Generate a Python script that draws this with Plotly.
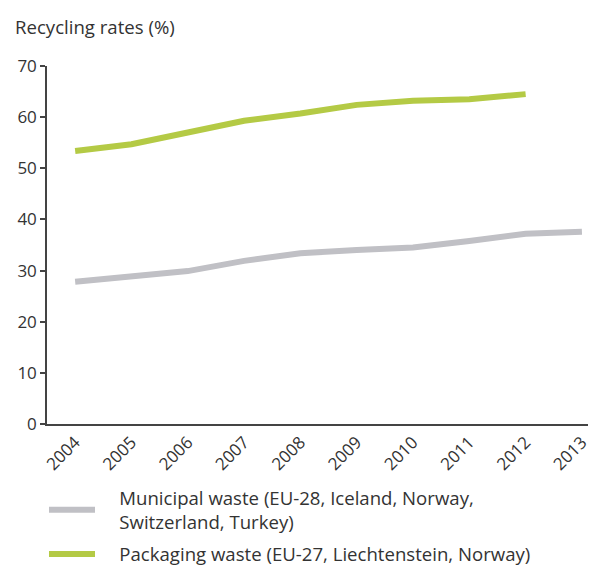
import plotly.graph_objects as go

years = [2004, 2005, 2006, 2007, 2008, 2009, 2010, 2011, 2012, 2013]
municipal = [27.8, 28.9, 29.9, 31.9, 33.4, 34.0, 34.5, 35.8, 37.2, 37.6]
packaging_years = [2004, 2005, 2006, 2007, 2008, 2009, 2010, 2011, 2012]
packaging = [53.4, 54.7, 57.0, 59.3, 60.7, 62.4, 63.2, 63.5, 64.5]
y_ticks = [0, 10, 20, 30, 40, 50, 60, 70]

FONT = "Open Sans"
TXT = "#333333"
W, H = 588, 559  # page body has an 8px offset
PAD = "\u00a0" * 4

fig = go.Figure()
fig.add_trace(go.Scatter(
    x=years, y=municipal, mode="lines", legendgroup="municipal",
    name=PAD + "Municipal waste (EU-28, Iceland, Norway,<br>" + PAD + "Switzerland, Turkey)",
    line=dict(color="#c0c0c5", width=6),
))
fig.add_trace(go.Scatter(
    x=packaging_years, y=packaging, mode="lines", legendgroup="packaging",
    name=PAD + "Packaging waste (EU-27, Liechtenstein, Norway)",
    line=dict(color="#b4ca45", width=6),
))

fig.update_layout(
    width=W, height=H,
    margin=dict(l=39, r=0, t=58, b=143, autoexpand=False),
    plot_bgcolor="white", paper_bgcolor="white",
    font=dict(family=FONT, color=TXT, size=18.6),
    title=dict(text="Recycling rates (%)", xref="container", yref="container",
               x=7/W, y=1-19/H, xanchor="left", yanchor="middle",
               pad=dict(l=0, r=0, t=0, b=0),
               font=dict(size=18.6, color=TXT, family=FONT)),
    showlegend=True,
    legend=dict(xref="container", yref="container", x=36/W, y=1-471/H,
                xanchor="left", yanchor="top", tracegroupgap=5,
                traceorder="grouped",
                font=dict(size=18.6, color=TXT), itemwidth=46,
                bgcolor="rgba(0,0,0,0)"),
)
fig.update_xaxes(
    range=[2003.5, 2013.25], tickmode="array", tickvals=years,
    ticktext=[str(y) for y in years], tickangle=-45,
    showline=True, linecolor="#444444", linewidth=1.5,
    showgrid=False, zeroline=False, ticks="",
    tickfont=dict(size=17, color=TXT),
)
fig.update_yaxes(
    range=[0, 70], tickmode="array", tickvals=y_ticks,
    showline=True, linecolor="#444444", linewidth=1.5,
    showgrid=False, zeroline=False, ticks="outside", ticklen=5,
    tickcolor="#444444", tickwidth=1.5,
    tickfont=dict(size=17, color=TXT),
)

fig.write_html("out.html")
